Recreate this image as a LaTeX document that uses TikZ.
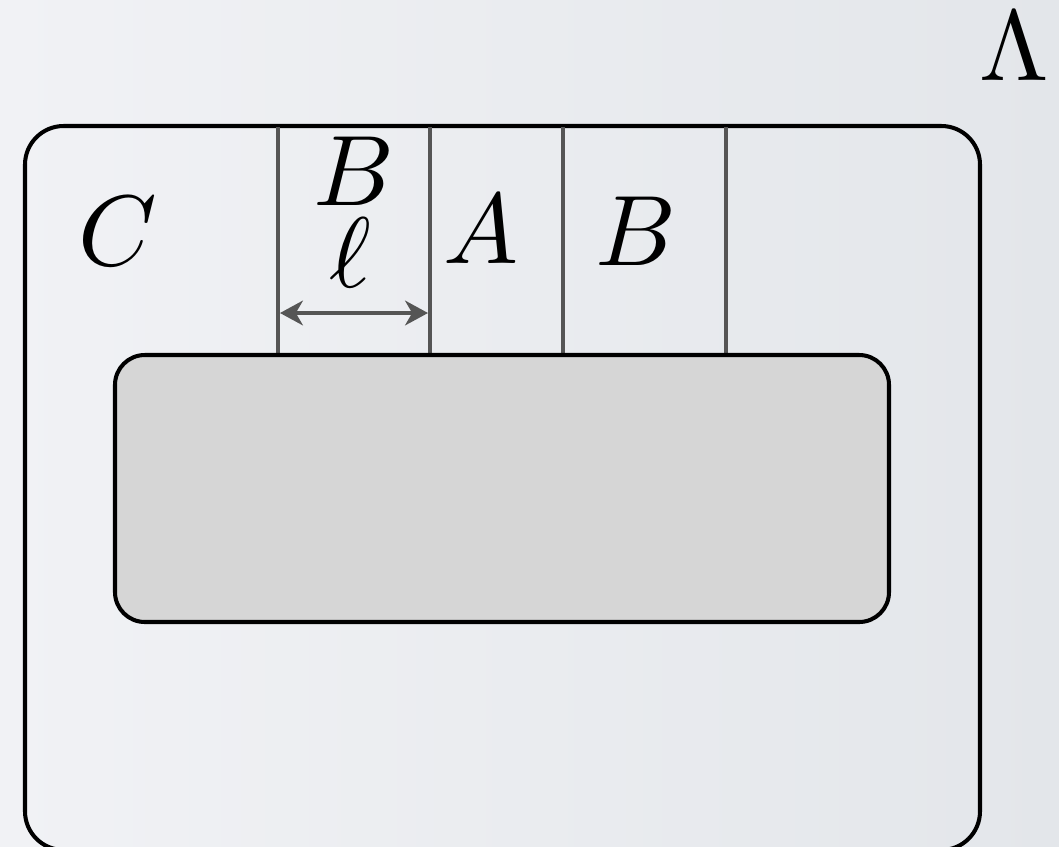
\documentclass[tikz,border=0pt]{standalone}
\usepackage{graphicx}
\usetikzlibrary{arrows.meta}
\definecolor{bgleft}{HTML}{F1F2F5}
\definecolor{bgright}{HTML}{E3E6EA}
\definecolor{innerfill}{HTML}{D6D6D6}
\definecolor{divgray}{HTML}{555555}
\newcommand{\bigsym}[1]{\scalebox{5.7}{$#1$}}
\tikzset{
  lbl/.style={inner sep=0pt, anchor=base},
  outerbox/.style={draw=black, line width=2.3pt, rounded corners=22pt},
  innerbox/.style={draw=black, line width=2.3pt, fill=innerfill, rounded corners=17pt},
  divider/.style={draw=divgray, line width=2.3pt},
  dimarrow/.style={draw=divgray, line width=2.3pt, {Stealth[length=13pt,width=14pt,inset=4pt]}-{Stealth[length=13pt,width=14pt,inset=4pt]}}
}
\begin{document}
\begin{tikzpicture}[x=0.02cm, y=-0.02cm]
\useasboundingbox (0,0) rectangle (1059,846);
\shade[left color=bgleft, right color=bgright] (0,0) rectangle (1059,846);
\begin{scope}
\clip (0,0) rectangle (1059,846);
\draw[outerbox] (25,126) rectangle (980,850);
\end{scope}
\foreach \x/\n in {278/a, 430/b, 563/c, 726/d} {
  \coordinate (top\n) at (\x,127);
  \coordinate (bot\n) at (\x,355);
  \draw[divider] (top\n) -- (bot\n);
}
\draw[innerbox] (115,355) rectangle (889,622);
\coordinate (arrL) at (280,313);
\coordinate (arrR) at (428,313);
\draw[dimarrow] (arrL) -- (arrR);
\node[lbl] (C) at (118,265) {\bigsym{C}};
\node[lbl] (B1) at (354,205) {\bigsym{B}};
\node[lbl] (ell) at (350,287) {\bigsym{\ell}};
\node[lbl] (A) at (481,263) {\bigsym{A}};
\node[lbl] (B2) at (636,265) {\bigsym{B}};
\node[lbl] (Lam) at (1014,80) {\bigsym{\Lambda}};
\end{tikzpicture}
\end{document}
